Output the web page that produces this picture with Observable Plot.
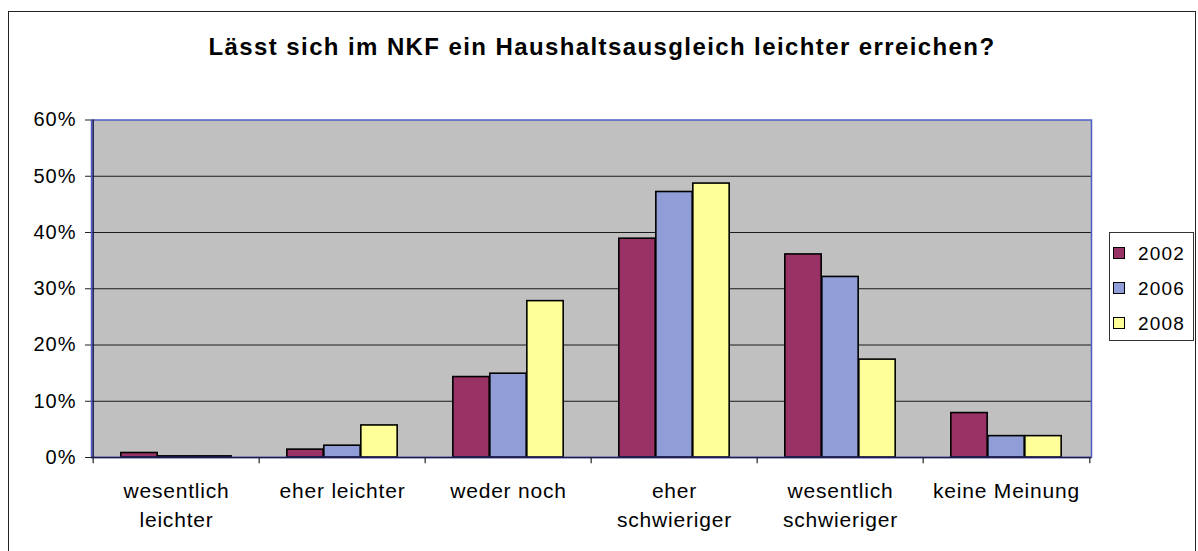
<!DOCTYPE html>
<html>
<head>
<meta charset="utf-8">
<script src="https://cdn.jsdelivr.net/npm/d3@7"></script>
<script src="https://cdn.jsdelivr.net/npm/@observablehq/plot@0.6"></script>
<style>
  html, body { margin: 0; padding: 0; background: #fff; }
  #wrap { position: relative; width: 1198px; height: 551px; overflow: hidden; font-family: "Liberation Sans", Arial, sans-serif; }
  #outer { position: absolute; left: 8px; top: 11px; width: 1188px; height: 548px; border: 1.5px solid #222; box-sizing: border-box; }
  #title { position: absolute; left: 8px; width: 1188px; top: 33px; text-align: center; font-weight: bold; font-size: 24px; letter-spacing: 1.4px; color: #000; }
  #chart { position: absolute; left: 0; top: 0; }
  #chart svg text.xl { letter-spacing: 0.8px; }
  #chart svg g[aria-label="y-axis tick label"] text { letter-spacing: 1px; }
  #legend { position: absolute; left: 1109px; top: 232px; width: 85px; height: 109px; border: 1px solid #333; box-sizing: border-box; background: #fff; }
  .item { position: absolute; left: 3px; font-size: 19px; line-height: 19px; letter-spacing: 1.2px; color: #000; }
  .sw { display: inline-block; width: 10px; height: 10px; border: 1px solid #000; margin-right: 13px; vertical-align: 1px; }
</style>
</head>
<body>
<div id="wrap">
  <div id="outer"></div>
  <div id="chart"></div>
  <div id="title"></div>
  <div id="legend"></div>
</div>
<script>
const titleText = "Lässt sich im NKF ein Haushaltsausgleich leichter erreichen?";
const categories = ["wesentlich\nleichter", "eher leichter", "weder noch", "eher\nschwieriger", "wesentlich\nschwieriger", "keine Meinung"];
const years = ["2002", "2006", "2008"];
const v2002 = [0.8, 1.4, 14.3, 38.9, 36.1, 7.9];
const v2006 = [0.2, 2.1, 14.9, 47.2, 32.1, 3.8];
const v2008 = [0.2, 5.7, 27.8, 48.7, 17.4, 3.8];
const yTicks = [0, 10, 20, 30, 40, 50, 60];
const colors = {"2002": "#993366", "2006": "#919dd6", "2008": "#ffff99"};

const seriesByYear = {"2002": v2002, "2006": v2006, "2008": v2008};
const rows = [];
for (const y of years) categories.forEach((c, i) => rows.push({cat: c, year: y, value: seriesByYear[y][i]}));

const W = 1198, H = 551;
const mL = 91, mR = 107, mT = 119.5, mB = 94;
const step = (W - mL - mR) / categories.length;
const barW = 37;
const inset = (step - barW) / 2;
const offsets = {"2002": -barW, "2006": 0, "2008": barW};

const marks = [
  Plot.frame({fill: "#c0c0c0", stroke: null}),
  Plot.ruleY(yTicks.filter(d => d > 0 && d < 60), {stroke: "#1a1a1a", strokeWidth: 1.2}),
];
for (const y of years) {
  marks.push(Plot.barY(rows.filter(r => r.year === y), {
    x: "cat", y: "value", fill: colors[y], stroke: "#000", strokeWidth: 1.6,
    insetLeft: inset, insetRight: inset, dx: offsets[y]
  }));
}
marks.push(
  Plot.frame({stroke: "#4d5cc4", strokeWidth: 1.5}),
  Plot.ruleY([0], {stroke: "#1c1c55", strokeWidth: 1.5}),
  Plot.ruleX([categories[0]], {dx: -step / 2, y1: 0, y2: 60, stroke: "#1c1c55", strokeWidth: 1.5}),
  Plot.ruleX(categories, {dx: -step / 2, y1: 0, y2: -1.1, stroke: "#222", strokeWidth: 1.2}),
  Plot.ruleX([categories[categories.length - 1]], {dx: step / 2, y1: 0, y2: -1.1, stroke: "#222", strokeWidth: 1.2}),
  Plot.axisY({ticks: yTicks, tickFormat: d => d + "%", tickSize: 6, tickPadding: 9, fontSize: 20, stroke: "#222", fill: "#000", label: null}),
  Plot.text(categories, {x: d => d, y: 0, text: d => d, dy: 20, lineAnchor: "top", lineHeight: 1.38, fontSize: 21, fill: "#000"})
);

const chart = Plot.plot({
  width: W, height: H,
  marginLeft: mL, marginRight: mR, marginTop: mT, marginBottom: mB,
  style: {background: "transparent", fontFamily: "Liberation Sans, Arial, sans-serif", color: "#000"},
  x: {domain: categories, padding: 0, axis: null},
  y: {domain: [0, 60], axis: null},
  marks
});
chart.querySelectorAll("g[aria-label='text'] text").forEach(t => t.classList.add("xl"));
document.getElementById("chart").appendChild(chart);
document.getElementById("title").textContent = titleText;

const legend = document.getElementById("legend");
years.forEach((y, i) => {
  const d = document.createElement("div");
  d.className = "item";
  d.style.top = (11 + i * 35) + "px";
  d.innerHTML = `<span class="sw" style="background:${colors[y]}"></span>${y}`;
  legend.appendChild(d);
});
</script>
</body>
</html>
